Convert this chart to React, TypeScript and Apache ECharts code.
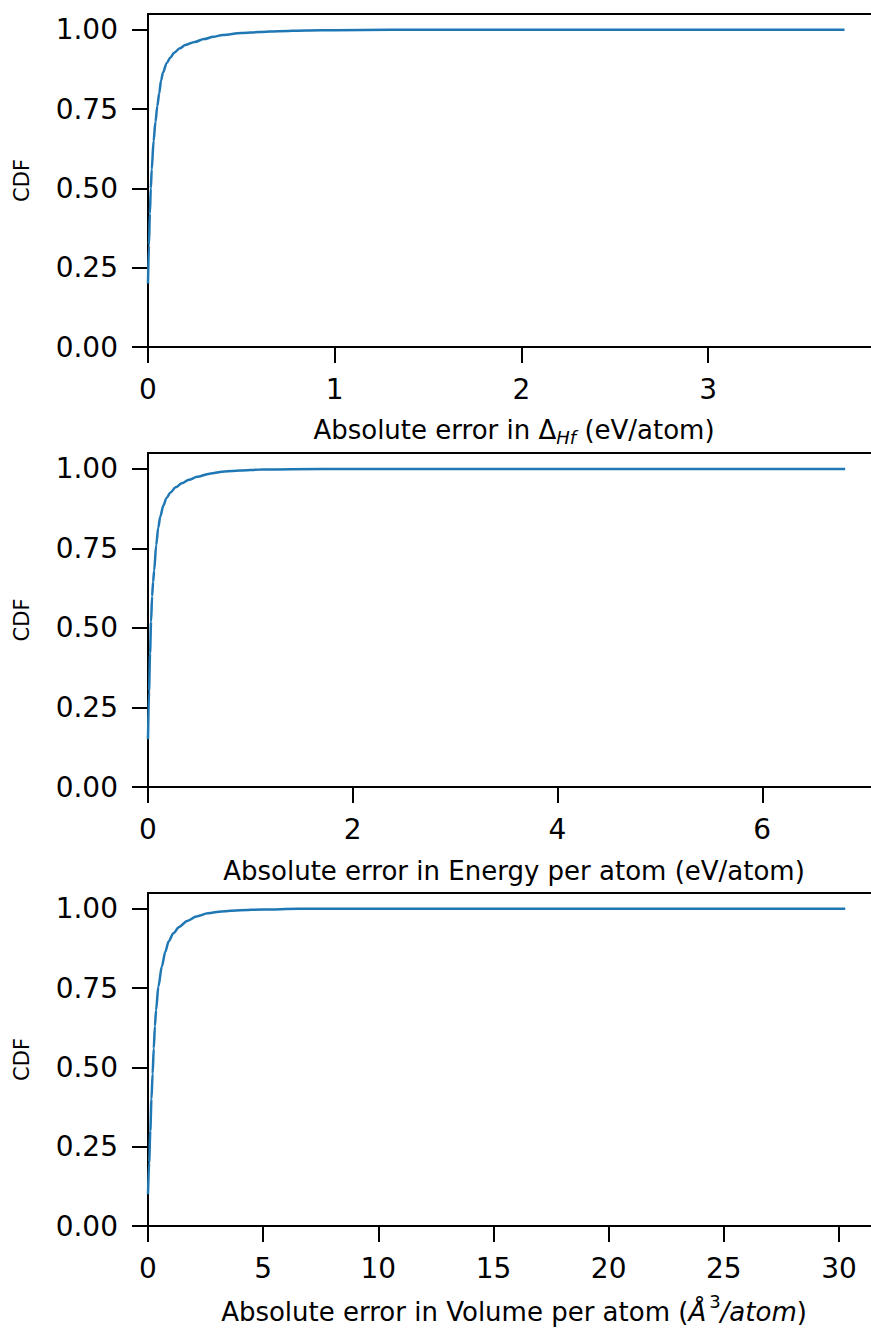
import React, { useEffect, useRef } from "react";
import * as echarts from "echarts";

// Panel 1: absolute error in formation enthalpy (eV/atom)
const hfErr = [0, 0.005, 0.01, 0.015, 0.02, 0.03, 0.04, 0.05, 0.06, 0.07, 0.08, 0.1, 0.12, 0.14, 0.17, 0.2, 0.25, 0.3, 0.35, 0.4, 0.5, 0.6, 0.7, 0.85, 1.0, 1.3, 1.7, 2.2, 3.73];
const hfCdf = [0.2, 0.32, 0.42, 0.5, 0.56, 0.65, 0.71, 0.76, 0.8, 0.84, 0.865, 0.895, 0.913, 0.928, 0.942, 0.952, 0.962, 0.971, 0.978, 0.984, 0.99, 0.993, 0.996, 0.998, 0.999, 1.0, 1.0, 1.0, 1.0];

// Panel 2: absolute error in energy per atom (eV/atom)
const enErr = [0, 0.01, 0.02, 0.03, 0.04, 0.05, 0.06, 0.08, 0.1, 0.12, 0.15, 0.18, 0.22, 0.27, 0.33, 0.4, 0.48, 0.6, 0.75, 0.9, 1.1, 1.4, 2.0, 6.81];
const enCdf = [0.15, 0.3, 0.42, 0.52, 0.6, 0.645, 0.68, 0.76, 0.815, 0.85, 0.885, 0.908, 0.926, 0.942, 0.955, 0.966, 0.975, 0.985, 0.992, 0.995, 0.998, 0.999, 1.0, 1.0];

// Panel 3: absolute error in volume per atom (Å^3/atom)
const volErr = [0, 0.05, 0.1, 0.15, 0.2, 0.25, 0.3, 0.35, 0.45, 0.6, 0.75, 0.9, 1.1, 1.35, 1.7, 2.1, 2.6, 3.2, 4.0, 5.0, 6.5, 10, 30.27];
const volCdf = [0.1, 0.2, 0.3, 0.4, 0.48, 0.56, 0.63, 0.68, 0.755, 0.818, 0.865, 0.898, 0.923, 0.943, 0.962, 0.976, 0.986, 0.992, 0.996, 0.998, 1.0, 1.0, 1.0];

const xTicks1 = [0, 1, 2, 3];
const xTicks2 = [0, 2, 4, 6];
const xTicks3 = [0, 5, 10, 15, 20, 25, 30];
const yTicks = [0, 0.25, 0.5, 0.75, 1.0];
const xMax = [3.92, 7.15, 31.78];
const yMax = 1.05;

const FONT = "DejaVu Sans";

export default function App() {
  const ref = useRef<HTMLDivElement>(null);
  useEffect(() => {
    if (!ref.current) return;
    const chart = echarts.init(ref.current, undefined, { renderer: "svg" });
    const grids = [
      { left: 148, top: 14, height: 333, width: 732 },
      { left: 148, top: 453, height: 334, width: 732 },
      { left: 148, top: 893, height: 333, width: 732 },
    ].map((g) => ({
      ...g,
      show: true,
      borderColor: "#000",
      borderWidth: 2,
      backgroundColor: "transparent",
      containLabel: false,
      outerBoundsMode: "none",
    }));

    const xTickSets = [xTicks1, xTicks2, xTicks3];
    const names = [
      "Absolute error in Δ{sub|Hf} (eV/atom)",
      "Absolute error in Energy per atom (eV/atom)",
      "Absolute error in Volume per atom ({it|Å}{sup|3}{it|/atom})",
    ];
    const gaps = [67, 70, 66];
    const lineHeights = [32, 28, 40];

    const xAxis = [0, 1, 2].map((i) => ({
      type: "value",
      gridIndex: i,
      min: 0,
      max: xMax[i],
      splitLine: { show: false },
      axisLine: { show: true, onZero: false, lineStyle: { color: "#000", width: 2 } },
      axisTick: { show: true, length: 16, customValues: xTickSets[i], lineStyle: { color: "#000", width: 2 } },
      axisLabel: {
        customValues: xTickSets[i],
        fontSize: 28,
        fontFamily: FONT,
        color: "#000",
        margin: 28,
        formatter: (v: number) => String(v),
      },
      name: names[i],
      nameLocation: "middle",
      nameGap: gaps[i],
      nameTextStyle: {
        fontSize: 26,
        fontFamily: FONT,
        color: "#000",
        lineHeight: lineHeights[i],
        rich: {
          sub: { fontSize: 18, fontStyle: "italic", fontFamily: FONT, color: "#000", verticalAlign: "bottom", lineHeight: 20 },
          sup: { fontSize: 18, fontFamily: FONT, color: "#000", verticalAlign: "top", lineHeight: 20, padding: [0, 0, 0, 3] },
          it: { fontSize: 26, fontStyle: "italic", fontFamily: FONT, color: "#000" },
        },
      },
    }));

    const yAxis = [0, 1, 2].map((i) => ({
      type: "value",
      gridIndex: i,
      min: 0,
      max: yMax,
      splitLine: { show: false },
      axisLine: { show: true, lineStyle: { color: "#000", width: 2 } },
      axisTick: { show: true, length: 16, customValues: yTicks, lineStyle: { color: "#000", width: 2 } },
      axisLabel: {
        customValues: yTicks,
        fontSize: 28,
        fontFamily: FONT,
        color: "#000",
        margin: 30,
        formatter: (v: number) => v.toFixed(2),
      },
      name: "CDF",
      nameLocation: "middle",
      nameGap: 116,
      nameTextStyle: { fontSize: 21, fontFamily: FONT, color: "#000" },
    }));

    const datasets = [
      [hfErr, hfCdf],
      [enErr, enCdf],
      [volErr, volCdf],
    ];
    const series = datasets.map(([xs, ys], i) => ({
      type: "line",
      xAxisIndex: i,
      yAxisIndex: i,
      data: xs.map((x, k) => [x, ys[k]]),
      showSymbol: false,
      smooth: 0.3,
      smoothMonotone: "x",
      lineStyle: { color: "#1f77b4", width: 2.5 },
      itemStyle: { color: "#1f77b4" },
    }));

    chart.setOption({
      animation: false,
      backgroundColor: "#fff",
      grid: grids,
      xAxis,
      yAxis,
      series,
    });
    return () => chart.dispose();
  }, []);
  return (
    <div
      ref={ref}
      style={{ position: "fixed", left: 0, top: 0, width: 871, height: 1330, background: "#fff" }}
    />
  );
}
